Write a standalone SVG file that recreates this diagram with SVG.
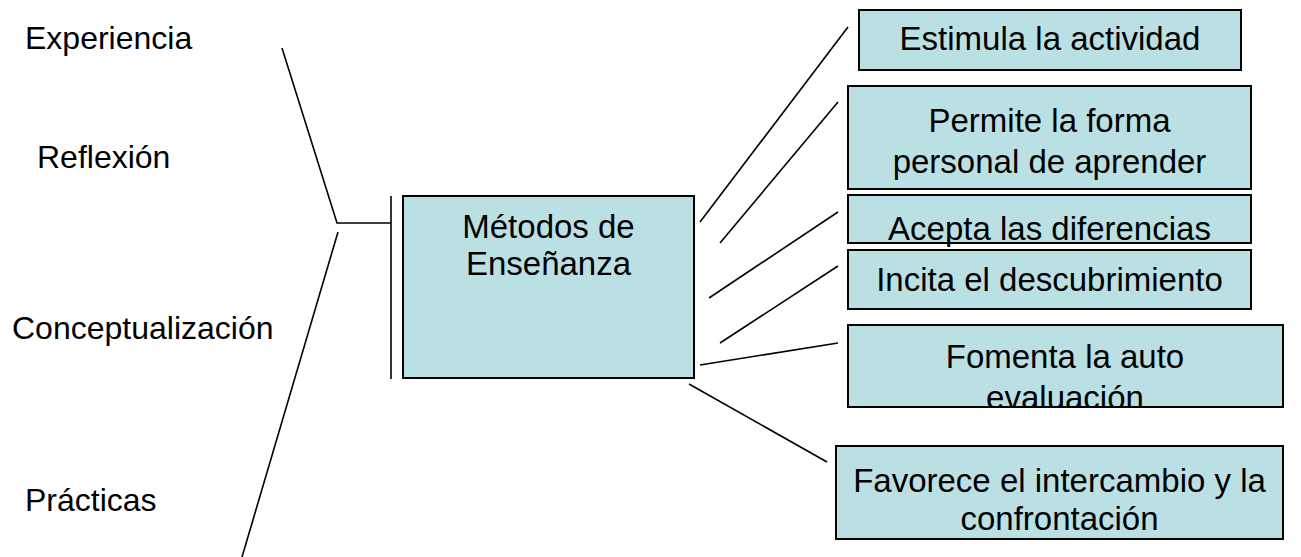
<svg xmlns="http://www.w3.org/2000/svg" width="1301" height="557" viewBox="0 0 1301 557">
<style>
.bg{fill:#ffffff}
.box{fill:#bbe0e3;stroke:#000;stroke-width:2}
.ln{stroke:#000;stroke-width:1.6;fill:none}
.lbl{font-family:"Liberation Sans",Arial,sans-serif;font-size:32px;fill:#000}
.bt{font-family:"Liberation Sans",Arial,sans-serif;font-size:33px;fill:#000;text-anchor:middle}
</style>
<defs>
<clipPath id="cFom"><rect x="848" y="325" width="435" height="81"/></clipPath>
</defs>
<rect class="bg" x="0" y="0" width="1301" height="557"/>
<g id="labels">
<text id="experiencia" class="lbl" x="25" y="49">Experiencia</text>
<text id="reflexion" class="lbl" x="37" y="168">Reflexión</text>
<text id="conceptualizacion" class="lbl" x="12" y="339">Conceptualización</text>
<text id="practicas" class="lbl" x="25" y="511">Prácticas</text>
</g>
<g id="connectors">
<polyline class="ln" points="282,48 337,223 391,223"/>
<line class="ln" x1="391" y1="196" x2="391" y2="379"/>
<line class="ln" x1="338" y1="232" x2="242" y2="557"/>
<line class="ln" x1="700" y1="222" x2="848" y2="27"/>
<line class="ln" x1="720" y1="243" x2="838" y2="102"/>
<line class="ln" x1="709" y1="298" x2="838" y2="212"/>
<line class="ln" x1="720" y1="343" x2="838" y2="266"/>
<line class="ln" x1="700" y1="365" x2="838" y2="343"/>
<line class="ln" x1="689" y1="384" x2="827" y2="462"/>
</g>
<g id="metodos">
<rect class="box" x="403" y="196" width="291" height="182"/>
<text class="bt" x="548.5" y="238">Métodos de</text>
<text class="bt" x="548.5" y="275">Enseñanza</text>
</g>
<g id="estimula">
<rect class="box" x="859" y="10" width="382" height="60"/>
<text class="bt" x="1050" y="50">Estimula la actividad</text>
</g>
<g id="permite">
<rect class="box" x="848" y="86" width="403" height="103"/>
<text class="bt" x="1049.5" y="132">Permite la forma</text>
<text class="bt" x="1049.5" y="173">personal de aprender</text>
</g>
<g id="acepta">
<rect class="box" x="848" y="195" width="403" height="48"/>
<text class="bt" x="1049.5" y="240">Acepta las diferencias</text>
</g>
<g id="incita">
<rect class="box" x="848" y="250" width="403" height="59"/>
<text class="bt" x="1049.5" y="291">Incita el descubrimiento</text>
</g>
<g id="fomenta">
<rect class="box" x="848" y="325" width="435" height="82"/>
<g clip-path="url(#cFom)">
<text class="bt" x="1065" y="368">Fomenta la auto</text>
<text class="bt" x="1065" y="409">evaluación</text>
</g>
</g>
<g id="favorece">
<rect class="box" x="836" y="446" width="447" height="93"/>
<text class="bt" x="1059.5" y="492">Favorece el intercambio y la</text>
<text class="bt" x="1059.5" y="530">confrontación</text>
</g>
</svg>
